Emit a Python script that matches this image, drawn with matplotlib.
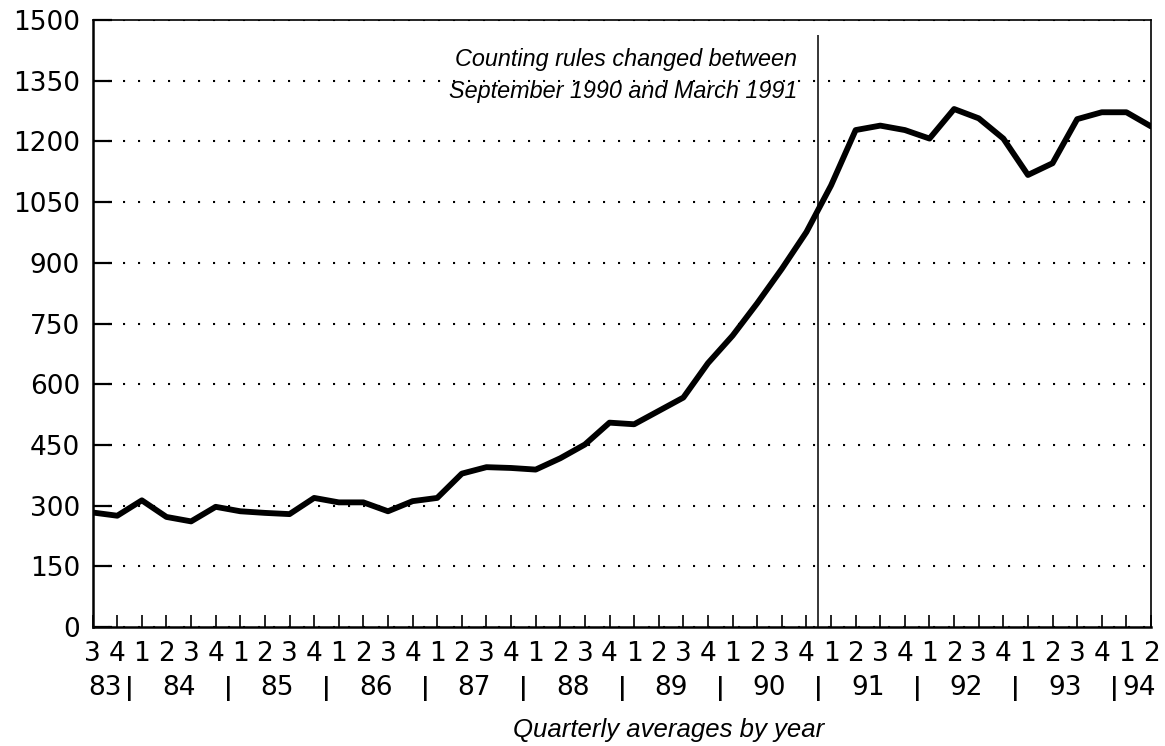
import matplotlib
matplotlib.use("Agg")
import numpy as np
import matplotlib.pyplot as plt

# quarterly averages, 1983 Q3 .. 1994 Q2
quarters = ["3", "4",
            "1", "2", "3", "4", "1", "2", "3", "4", "1", "2", "3", "4",
            "1", "2", "3", "4", "1", "2", "3", "4", "1", "2", "3", "4",
            "1", "2", "3", "4", "1", "2", "3", "4", "1", "2", "3", "4",
            "1", "2", "3", "4",
            "1", "2"]
years = ["83", "84", "85", "86", "87", "88", "89", "90", "91", "92", "93", "94"]
values = [283, 275, 313, 272, 261, 297, 286, 282, 279, 319, 308, 308,
          286, 311, 319, 379, 395, 393, 389, 417, 451, 505, 501, 534,
          567, 652, 720, 800, 885, 976, 1091, 1228, 1239, 1228, 1207, 1280,
          1257, 1207, 1117, 1146, 1255, 1272, 1272, 1237]

# rule change falls between 90 Q4 and 91 Q1
change_pos = 29.45
change_top = 1462
note_lines = ["Counting rules changed between", "September 1990 and March 1991"]
note_y = [1387, 1308]

x = np.arange(len(values))

fig = plt.figure(figsize=(11.65, 7.46), dpi=100)
ax = fig.add_axes([0.0795, 0.1595, 0.9085, 0.8137])

ax.plot(x, values, color="black", lw=4.2, solid_joinstyle="round",
        solid_capstyle="round", zorder=3)
ax.vlines(change_pos, 0, change_top, color="black", lw=1.1, zorder=2)

ax.set_xlim(0, len(values) - 1)
ax.set_ylim(0, 1500)
ax.set_yticks(np.arange(0, 1501, 150))
ax.set_xticks(x)
ax.set_xticklabels(quarters)

ax.yaxis.grid(True, color="black", lw=1.5, linestyle=(0, (1, 6.2)), zorder=1)
ax.set_axisbelow(True)

ax.tick_params(axis="y", direction="in", length=14, width=1.6, labelsize=19, pad=9)
ax.tick_params(axis="x", direction="in", length=8.5, width=1.2, labelsize=19, pad=10)
for side in ["left", "bottom"]:
    ax.spines[side].set_linewidth(1.8)
for side in ["top", "right"]:
    ax.spines[side].set_linewidth(1.2)

# year row under the quarter numbers, with separators
trans = ax.get_xaxis_transform()
starts = [0] + [i for i, q in enumerate(quarters) if q == "1"]
ends = starts[1:] + [len(quarters)]
for yr, s, e in zip(years, starts, ends):
    ax.text((s + e - 1) / 2, -0.1005, yr, transform=trans, ha="center",
            va="center", fontsize=19)
for s in starts[1:]:
    ax.text(s - 0.5, -0.1005, "|", transform=trans, ha="center",
            va="center", fontsize=17, fontweight="bold")

for txt, yv in zip(note_lines, note_y):
    ax.text(28.63, yv, txt, ha="right", va="baseline", fontsize=16.8,
            family="Liberation Sans", style="italic")

ax.set_xlabel("Quarterly averages by year", fontsize=18.5, family="Liberation Sans",
              style="italic")
ax.xaxis.set_label_coords(0.544, -0.17)
ax.xaxis.label.set_va("center")

fig.savefig("out.png", dpi=100)
